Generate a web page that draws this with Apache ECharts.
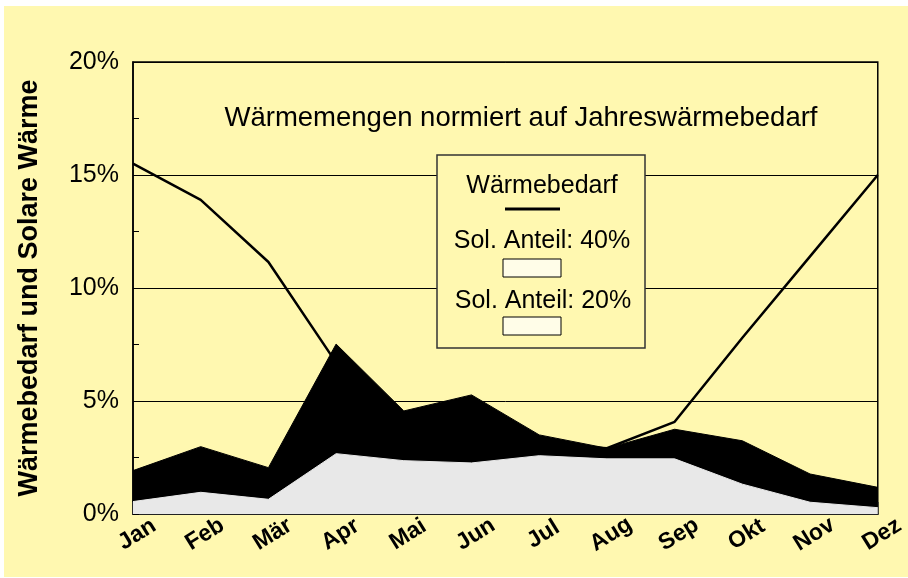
<!DOCTYPE html>
<html>
<head>
<meta charset="utf-8">
<script src="https://cdn.jsdelivr.net/npm/echarts@6/dist/echarts.min.js"></script>
<style>
  html, body { margin: 0; padding: 0; background: #fff; }
  #main { width: 908px; height: 578px; }
</style>
</head>
<body>
<div id="main"></div>
<script>
var months = ['Jan', 'Feb', 'Mär', 'Apr', 'Mai', 'Jun', 'Jul', 'Aug', 'Sep', 'Okt', 'Nov', 'Dez'];
// Wärmebedarf (line), in % of annual demand
var waermebedarf = [15.5, 13.9, 11.15, 6.7, 4.2, 3.6, 3.1, 2.91, 4.08, 7.8, 11.4, 15.0];
// solar heat, 40% share (black area)
var solar40 = [1.92, 2.98, 2.05, 7.52, 4.56, 5.27, 3.5, 2.91, 3.75, 3.24, 1.77, 1.18];
// solar heat, 20% share (grey area)
var solar20 = [0.55, 0.96, 0.65, 2.67, 2.36, 2.26, 2.58, 2.44, 2.44, 1.32, 0.52, 0.28];
var yTicks = [0, 5, 10, 15, 20];

var font = 'Liberation Sans, Arial, Helvetica, sans-serif';
var bgYellow = '#FFF8B0';

var myChart = echarts.init(document.getElementById('main'));
var option;

option = {
    backgroundColor: '#fff',
    animation: false,
    grid: {
        left: 133,
        top: 62,
        right: 21,
        bottom: 64,
        show: true,
        borderColor: '#000',
        borderWidth: 1.5,
        backgroundColor: 'transparent'
    },
    xAxis: {
        type: 'category',
        boundaryGap: false,
        data: months,
        axisLine: { lineStyle: { color: '#222', width: 2 } },
        axisTick: { inside: true, length: 12, lineStyle: { color: '#333', width: 1.5 } },
        axisLabel: {
            interval: 0,
            rotate: 32,
            align: 'center',
            verticalAlign: 'middle',
            margin: 23,
            padding: [0, 0, 0, 10],
            color: '#000',
            fontFamily: font,
            fontWeight: 'bold',
            fontSize: 23
        },
        splitLine: { show: false }
    },
    yAxis: {
        type: 'value',
        min: yTicks[0],
        max: yTicks[yTicks.length - 1],
        interval: 5,
        name: 'Wärmebedarf und Solare Wärme',
        nameLocation: 'middle',
        nameRotate: 90,
        nameGap: 90,
        nameTextStyle: {
            color: '#000',
            fontFamily: font,
            fontWeight: 'bold',
            fontSize: 27
        },
        axisLine: { show: true, lineStyle: { color: '#000', width: 1.5 } },
        axisTick: { show: true, inside: true, length: 6, lineStyle: { color: '#000' } },
        minorTick: { show: true, splitNumber: 2, length: 6, lineStyle: { color: '#000' } },
        axisLabel: {
            formatter: '{value}%',
            margin: 14,
            color: '#000',
            fontFamily: font,
            fontSize: 25
        },
        splitLine: { show: true, lineStyle: { color: '#000', width: 1 } }
    },
    graphic: [
        {
            type: 'rect', z: -10, silent: true,
            shape: { x: 4, y: 6, width: 904, height: 571 },
            style: { fill: bgYellow }
        },
        {
            type: 'text', z: 100, silent: true,
            x: 521, y: 118,
            style: {
                text: 'Wärmemengen normiert auf Jahreswärmebedarf',
                fill: '#000', font: '27.5px ' + font,
                textAlign: 'center', textVerticalAlign: 'middle'
            }
        },
        // legend box
        {
            type: 'rect', z: 100, silent: true,
            shape: { x: 437, y: 155, width: 208, height: 193 },
            style: { fill: bgYellow, stroke: '#333', lineWidth: 1.5 }
        },
        {
            type: 'text', z: 101, silent: true,
            x: 542, y: 186,
            style: {
                text: 'Wärmebedarf', fill: '#000', font: '25px ' + font,
                textAlign: 'center', textVerticalAlign: 'middle'
            }
        },
        {
            type: 'line', z: 101, silent: true,
            shape: { x1: 505, y1: 209, x2: 560, y2: 209 },
            style: { stroke: '#000', lineWidth: 3 }
        },
        {
            type: 'text', z: 101, silent: true,
            x: 542, y: 241,
            style: {
                text: 'Sol. Anteil: 40%', fill: '#000', font: '25px ' + font,
                textAlign: 'center', textVerticalAlign: 'middle'
            }
        },
        {
            type: 'rect', z: 101, silent: true,
            shape: { x: 503, y: 259, width: 58, height: 18 },
            style: { fill: '#FFFDE8', stroke: '#000', lineWidth: 1 }
        },
        {
            type: 'text', z: 101, silent: true,
            x: 543, y: 301,
            style: {
                text: 'Sol. Anteil: 20%', fill: '#000', font: '25px ' + font,
                textAlign: 'center', textVerticalAlign: 'middle'
            }
        },
        {
            type: 'rect', z: 101, silent: true,
            shape: { x: 503, y: 317, width: 58, height: 18 },
            style: { fill: '#FFFDE8', stroke: '#000', lineWidth: 1 }
        }
    ],
    series: [
        {
            name: 'Wärmebedarf',
            type: 'line',
            z: 1,
            symbol: 'none',
            lineStyle: { color: '#000', width: 2.5 },
            data: waermebedarf
        },
        {
            name: 'Sol. Anteil: 40%',
            type: 'line',
            z: 2,
            symbol: 'none',
            lineStyle: { color: '#000', width: 1 },
            areaStyle: { color: '#000', opacity: 1 },
            data: solar40
        },
        {
            name: 'Sol. Anteil: 20%',
            type: 'line',
            z: 3,
            symbol: 'none',
            lineStyle: { color: '#E8E8E8', width: 1 },
            areaStyle: { color: '#E8E8E8', opacity: 1 },
            data: solar20
        }
    ]
};
option && myChart.setOption(option);
</script>
</body>
</html>
